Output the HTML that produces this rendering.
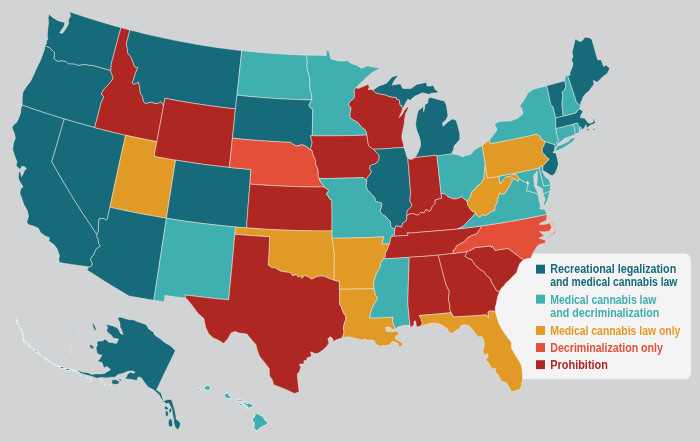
<!DOCTYPE html>
<html><head><meta charset="utf-8"><title>Map</title>
<style>
html,body{margin:0;padding:0;background:#d1d3d4;}
body{width:700px;height:442px;overflow:hidden;position:relative;font-family:"Liberation Sans",sans-serif;}
svg{position:absolute;left:0;top:0;}
</style></head><body>
<svg width="700" height="442" viewBox="0 0 700 442">
<rect width="700" height="442" fill="#d1d3d4"/>
<path fill="#f4f4f5" d="M493,253.5H684.5A6.5,6.5 0 0 1 691,260.0V372.8A6.5,6.5 0 0 1 684.5,379.3H503L494,300Z"/>
<g stroke="#f3ece4" stroke-width="0.5" stroke-linejoin="round">
<path fill="#166a7a" d="M44.7,45.7L46.5,43.5L46.6,40.4L48,39.3L47.3,36.8L47.4,33.6L47.7,29.8L48.5,23.1L48.2,17.5L48.9,14L52.6,17.4L55.3,19L58,20.7L62.7,21.9L64.9,22.6L64,26.2L61.3,30.4L59.6,32.5L62.3,33.4L64.9,30.1L67.1,26.5L68.7,23.2L68.3,19.9L70.6,16L69.4,11.8L73.7,13.2L77.9,14.6L82.2,16L86.5,17.4L90.8,18.8L95.1,20.1L99.4,21.4L103.7,22.7L108,23.9L112.3,25.2L116.6,26.4L121,27.6L119.3,33.7L117.7,39.8L116.1,45.8L114.5,51.9L112.8,58L111.2,64.2L111.1,67.6L110.7,70.6L106.8,69.5L102.9,68.4L98.9,67.3L95,66.2L91.1,65.1L90.7,65.7L87.8,65.1L84.9,64.4L81.6,65L78.3,65.5L74.1,64.1L71.2,64L68.4,64L66,61.6L62,60.9L57.7,61.5L53.7,58.6L54.3,55.7L54.4,52.6L52,50.2L49.7,47.8L47.2,46.8L44.7,45.7Z"/>
<path fill="#166a7a" d="M22.1,105.1L22.2,98.8L22.9,92.1L26.7,86.2L30.6,81.2L33.8,74.5L36.8,67.6L40.2,61L42.8,54L44.3,49.8L44.8,46.9L44.7,45.7L47.2,46.8L49.7,47.8L52,50.2L54.4,52.6L54.3,55.7L53.7,58.6L57.7,61.5L62,60.9L66,61.6L68.4,64L71.2,64L74.1,64.1L78.3,65.5L81.6,65L84.9,64.4L87.8,65.1L90.7,65.7L91.1,65.1L95,66.2L98.9,67.3L102.9,68.4L106.8,69.5L110.7,70.6L111.6,73.9L113.3,77.4L112.1,80.1L110.1,82.7L107.5,85.8L104.8,88.1L102.2,92L101.4,94.1L102.8,95.6L103.8,96.8L102.6,99.7L101.5,101.4L99.8,107.9L98.1,114.5L96.4,121L94.7,127.6L89.6,126.2L84.5,124.8L79.5,123.4L74.4,122L69.4,120.5L64.3,119L59.6,117.6L54.9,116.1L50.2,114.6L45.5,113.1L40.8,111.5L36.1,110L31.4,108.4L26.8,106.7L22.1,105.1Z"/>
<path fill="#166a7a" d="M59.6,262.6L58.7,259.8L59.4,255.5L57.1,248.8L53.8,244.6L50.7,242.2L48.8,241.2L49.4,237.6L45.5,236.2L40.8,232.9L38.3,228.3L33.4,226.1L28,224.5L26.8,221.9L28.5,216.2L27.2,210.4L23.8,204.4L21.9,198.7L19.9,193.4L20.6,189L23.1,186.8L21.1,183.8L18.4,179L18.6,173.6L19.7,170.6L20.4,171.9L21,174.4L21.5,176.6L23,174.3L24.3,170.8L26.5,168.4L24.1,166.6L21.8,166.4L20.2,169.5L16.1,165.8L16.9,161.4L14.3,155L12.6,149.7L13.5,143L15.4,138.1L14.2,133L12.3,128.4L12.4,126.2L16.8,122.1L18.1,119.4L20.5,113.2L21,108.6L22.1,105.1L26.8,106.7L31.4,108.4L36.1,110L40.8,111.5L45.5,113.1L50.2,114.6L54.9,116.1L59.6,117.6L64.3,119L62.2,126.1L60.1,133.2L58.1,140.3L56,147.5L53.9,154.6L51.8,161.7L55.6,168.4L59.4,175.1L63.3,181.8L67.3,188.4L71.3,195.1L75.4,201.7L79.6,208.3L83.8,214.9L88.2,221.5L92.6,228L97,234.5L96.9,236.8L98.2,239.3L98.5,243.1L100.5,245.9L98.2,247.6L96,249.3L94.1,253.4L93.4,255.5L91.2,257.2L90.8,260.2L92.3,263.5L92.3,265.3L90,267L88.8,266.9L82.9,266.1L77.1,265.3L71.3,264.4L65.4,263.6L59.6,262.6Z"/>
<path fill="#166a7a" d="M64.3,119L69.4,120.5L74.4,122L79.5,123.4L84.5,124.8L89.6,126.2L94.7,127.6L99.8,128.9L104.9,130.2L110.1,131.5L115.3,132.8L120.4,134L125.6,135.2L124,142.4L122.4,149.6L120.8,156.8L119.2,164L117.7,171.3L116.1,178.5L114.5,185.7L113,192.9L111.4,200.1L109.9,207.3L108.6,213L107.4,218.8L106.5,220.1L103.3,218.6L99.1,218.7L98.7,222.1L98.5,225.8L98.3,230.3L98.3,231.8L97,234.5L92.6,228L88.2,221.5L83.8,214.9L79.6,208.3L75.4,201.7L71.3,195.1L67.3,188.4L63.3,181.8L59.4,175.1L55.6,168.4L51.8,161.7L53.9,154.6L56,147.5L58.1,140.3L60.1,133.2L62.2,126.1L64.3,119Z"/>
<path fill="#af2723" d="M121,27.6L125.4,28.8L129.9,30L128.1,37.1L126.3,44.2L127.3,48.3L127.6,52.9L130.7,56.7L132.7,61L133.4,64.2L135.4,67.3L137.9,67.6L135.2,73.8L133.2,80.5L132.1,82.9L133.8,84.3L138.4,82.2L139.3,85.3L139.9,89.5L140.5,93.6L142.3,96.4L143.6,101.4L145.2,103.5L148.2,102.8L151.2,102.1L155.2,103.4L158,103.7L160,101.7L161.8,102.6L163.6,105.8L162.2,113L160.9,120.2L159.5,127.4L158.2,134.6L156.9,141.7L151.7,140.7L146.4,139.7L141.2,138.6L136,137.5L130.8,136.4L125.6,135.2L120.4,134L115.3,132.8L110.1,131.5L104.9,130.2L99.8,128.9L94.7,127.6L96.4,121L98.1,114.5L99.8,107.9L101.5,101.4L102.6,99.7L103.8,96.8L102.8,95.6L101.4,94.1L102.2,92L104.8,88.1L107.5,85.8L110.1,82.7L112.1,80.1L113.3,77.4L111.6,73.9L110.7,70.6L111.1,67.6L111.2,64.2L112.8,58L114.5,51.9L116.1,45.8L117.7,39.8L119.3,33.7L121,27.6Z"/>
<path fill="#e29a27" d="M125.6,135.2L130.8,136.4L136,137.5L141.2,138.6L146.4,139.7L151.7,140.7L156.9,141.7L155.5,149L154.2,156.3L159.6,157.3L164.9,158.2L170.2,159.2L175.6,160.1L174.4,167.4L173.3,174.6L172.1,181.9L171,189.2L169.8,196.5L168.7,203.7L167.6,211L166.4,218.2L160.8,217.3L155.1,216.3L149.4,215.3L143.7,214.3L138.1,213.2L132.4,212.1L126.8,210.9L121.1,209.7L115.5,208.5L109.9,207.3L111.4,200.1L113,192.9L114.5,185.7L116.1,178.5L117.7,171.3L119.2,164L120.8,156.8L122.4,149.6L124,142.4L125.6,135.2Z"/>
<path fill="#166a7a" d="M109.9,207.3L115.5,208.5L121.1,209.7L126.8,210.9L132.4,212.1L138.1,213.2L143.7,214.3L149.4,215.3L155.1,216.3L160.8,217.3L166.4,218.2L165.4,225.1L164.3,232L163.3,238.8L162.2,245.6L161.2,252.5L160.1,259.3L159.1,266.2L158,273L157,279.8L155.9,286.6L154.9,293.5L153.8,300.3L148.9,299.5L143.9,298.6L138.9,297.8L134,296.9L129,296L123.6,292.8L118.3,289.6L113,286.4L107.8,283.2L102.5,279.9L97.3,276.6L92.1,273.3L87,270L88.8,266.9L90,267L92.3,265.3L92.3,263.5L90.8,260.2L91.2,257.2L93.4,255.5L94.1,253.4L96,249.3L98.2,247.6L100.5,245.9L98.5,243.1L98.2,239.3L96.9,236.8L97,234.5L98.3,231.8L98.3,230.3L98.5,225.8L98.7,222.1L99.1,218.7L103.3,218.6L106.5,220.1L107.4,218.8L108.6,213L109.9,207.3Z"/>
<path fill="#166a7a" d="M129.9,30L134.5,31.1L139.1,32.3L143.7,33.4L148.3,34.5L152.9,35.6L157.5,36.6L162.1,37.6L166.8,38.6L171.4,39.6L176.1,40.5L180.7,41.4L185.4,42.3L190.1,43.1L194.7,44L199.4,44.8L204.1,45.5L208.8,46.3L213.5,47L218.2,47.7L222.9,48.3L227.7,48.9L232.4,49.5L237.1,50.1L241.8,50.6L241.1,57L240.4,63.4L239.7,69.7L239.1,76.1L238.4,82.5L237.7,88.8L237,95.2L236.2,102.1L235.5,108.9L230.4,108.4L225.4,107.8L220.3,107.2L215.3,106.5L210.2,105.8L205.2,105.1L200.1,104.3L195.1,103.6L190.1,102.8L185,101.9L180,101.1L175,100.2L170,99.2L165,98.3L164.3,102L163.6,105.8L161.8,102.6L160,101.7L158,103.7L155.2,103.4L151.2,102.1L148.2,102.8L145.2,103.5L143.6,101.4L142.3,96.4L140.5,93.6L139.9,89.5L139.3,85.3L138.4,82.2L133.8,84.3L132.1,82.9L133.2,80.5L135.2,73.8L137.9,67.6L135.4,67.3L133.4,64.2L132.7,61L130.7,56.7L127.6,52.9L127.3,48.3L126.3,44.2L128.1,37.1L129.9,30Z"/>
<path fill="#af2723" d="M165,98.3L170,99.2L175,100.2L180,101.1L185,101.9L190.1,102.8L195.1,103.6L200.1,104.3L205.2,105.1L210.2,105.8L215.3,106.5L220.3,107.2L225.4,107.8L230.4,108.4L235.5,108.9L234.7,116.2L234,123.6L233.2,130.9L232.4,138.2L231.7,145.5L230.9,152.8L230.1,160.1L229.4,167.4L224,166.8L218.6,166.2L213.2,165.6L207.8,164.9L202.4,164.2L197.1,163.4L191.7,162.6L186.3,161.8L180.9,161L175.6,160.1L170.2,159.2L164.9,158.2L159.6,157.3L154.2,156.3L155.5,149L156.9,141.7L158.2,134.6L159.5,127.4L160.9,120.2L162.2,113L163.6,105.8L164.3,102Z"/>
<path fill="#166a7a" d="M175.6,160.1L180.9,161L186.3,161.8L191.7,162.6L197.1,163.4L202.4,164.2L207.8,164.9L213.2,165.6L218.6,166.2L224,166.8L229.4,167.4L234.8,168L240.2,168.5L245.6,169L251,169.4L250.4,176.8L249.9,184.1L249.3,191.4L248.7,198.7L248.1,206L247.6,213.3L247,220.6L246.5,227.9L241,227.5L235.5,227L230.2,226.5L224.9,226L219.5,225.4L214.2,224.8L208.9,224.2L203.6,223.6L198.3,222.9L193,222.2L187.6,221.5L182.3,220.7L177,219.9L171.7,219.1L166.4,218.2L167.6,211L168.7,203.7L169.8,196.5L171,189.2L172.1,181.9L173.3,174.6L174.4,167.4L175.6,160.1Z"/>
<path fill="#40afb0" d="M166.4,218.2L171.7,219.1L177,219.9L182.3,220.7L187.6,221.5L193,222.2L198.3,222.9L203.6,223.6L208.9,224.2L214.2,224.8L219.5,225.4L224.9,226L230.2,226.5L235.5,227L234.9,234.3L234.2,241.6L233.6,248.8L232.9,256.1L232.2,263.4L231.5,270.7L230.8,278L230.1,285.3L229.4,292.5L228.7,299.8L223.3,299.3L217.8,298.8L212.3,298.2L206.9,297.6L201.4,297L196,296.3L190.5,295.7L185.1,295L185.8,298.3L180.6,297.6L175.4,296.9L170.3,296.1L165.1,295.4L164.2,301.9L159,301.1L153.8,300.3L154.9,293.5L155.9,286.6L157,279.8L158,273L159.1,266.2L160.1,259.3L161.2,252.5L162.2,245.6L163.3,238.8L164.3,232L165.4,225.1L166.4,218.2Z"/>
<path fill="#40afb0" d="M241.8,50.6L246.4,51.1L251,51.6L255.7,52L260.3,52.5L264.9,52.8L269.5,53.2L274.1,53.5L278.8,53.8L283.4,54.1L288,54.4L292.6,54.6L297.3,54.8L301.9,55L306.5,55.1L307.4,61L306.9,66.8L307.8,71.2L309.5,77.1L309.7,81.5L309.8,85.9L310.2,90.3L311.6,94.7L311.9,100L306.9,99.9L301.9,99.7L296.9,99.6L291.9,99.4L286.9,99.1L281.9,98.9L276.9,98.6L271.9,98.3L266.9,97.9L261.9,97.6L256.9,97.1L251.9,96.7L246.9,96.2L242,95.7L237,95.2L237.7,88.8L238.4,82.5L239.1,76.1L239.7,69.7L240.4,63.4L241.1,57L241.8,50.6Z"/>
<path fill="#166a7a" d="M237,95.2L242,95.7L246.9,96.2L251.9,96.7L256.9,97.1L261.9,97.6L266.9,97.9L271.9,98.3L276.9,98.6L281.9,98.9L286.9,99.1L291.9,99.4L296.9,99.6L301.9,99.7L306.9,99.9L311.9,100L308.8,104.9L310.3,107.8L312.8,109.4L312.7,115.9L312.5,122.5L312.4,129.1L312.3,135.7L310.7,135.7L311.2,139.4L312.2,142.3L311.4,145.9L310.3,149.6L312.1,150.5L309.4,149.6L307.4,147L302.1,144.7L299.2,145.4L296.3,146L292.7,144L290.6,142.4L285.8,142.2L280.9,142L276.1,141.7L271.2,141.4L266.4,141.1L261.5,140.8L256.6,140.4L251.8,140L246.9,139.6L242.1,139.2L237.3,138.7L232.4,138.2L233.2,130.9L234,123.6L234.7,116.2L235.5,108.9L236.2,102.1L237,95.2Z"/>
<path fill="#e44f39" d="M232.4,138.2L237.3,138.7L242.1,139.2L246.9,139.6L251.8,140L256.6,140.4L261.5,140.8L266.4,141.1L271.2,141.4L276.1,141.7L280.9,142L285.8,142.2L290.6,142.4L292.7,144L296.3,146L299.2,145.4L302.1,144.7L307.4,147L309.4,149.6L312.1,150.5L313.1,154.8L315.7,160.6L315.6,164.3L317.5,168L318.3,172.4L318.2,176L319.1,178.5L320.9,182.6L322.6,184.1L324.1,187L318.8,187L313.5,187L308.2,186.9L302.9,186.8L297.6,186.6L292.2,186.5L286.9,186.3L281.6,186L276.3,185.8L271,185.5L265.7,185.2L260.4,184.8L255.1,184.5L249.9,184.1L250.4,176.8L251,169.4L245.6,169L240.2,168.5L234.8,168L229.4,167.4L230.1,160.1L230.9,152.8L231.7,145.5L232.4,138.2Z"/>
<path fill="#af2723" d="M249.9,184.1L255.1,184.5L260.4,184.8L265.7,185.2L271,185.5L276.3,185.8L281.6,186L286.9,186.3L292.2,186.5L297.6,186.6L302.9,186.8L308.2,186.9L313.5,187L318.8,187L324.1,187L327,188.9L329,190.4L326.4,193.6L328.7,197L329.4,198.7L331.9,200L331.9,206.2L332,212.4L332,218.6L332,224.7L332,230.9L326.3,230.9L320.6,230.9L314.9,230.9L309.2,230.8L303.5,230.7L297.8,230.5L292.1,230.4L286.4,230.2L280.7,229.9L275,229.7L269.3,229.4L263.6,229.1L257.9,228.7L252.2,228.3L246.5,227.9L247,220.6L247.6,213.3L248.1,206L248.7,198.7L249.3,191.4L249.9,184.1Z"/>
<path fill="#e29a27" d="M235.5,227L241,227.5L246.5,227.9L252.2,228.3L257.9,228.7L263.6,229.1L269.3,229.4L275,229.7L280.7,229.9L286.4,230.2L292.1,230.4L297.8,230.5L303.5,230.7L309.2,230.8L314.9,230.9L320.6,230.9L326.3,230.9L332,230.9L332.1,238.2L332.9,243.6L333.6,249L334.4,254.4L334.3,260.8L334.3,267.3L334.2,273.7L334.1,280.2L329,278.6L324.8,276.4L321.2,275.9L317,276.6L311.6,279.2L308.6,276.9L304.4,275.4L301.9,278.5L301.4,276L298.4,277L296,274.7L292.4,275.8L290.7,272.8L288.3,272.3L284.7,271.9L280.5,271L277.6,269.4L275.3,267.8L271.7,267.6L268.2,265.1L268.6,258L269,250.9L269.3,243.8L269.7,236.7L263.9,236.4L258.1,236.1L252.3,235.7L246.5,235.2L240.7,234.8L234.9,234.3L235.5,227Z"/>
<path fill="#af2723" d="M234.9,234.3L240.7,234.8L246.5,235.2L252.3,235.7L258.1,236.1L263.9,236.4L269.7,236.7L269.3,243.8L269,250.9L268.6,258L268.2,265.1L271.7,267.6L275.3,267.8L277.6,269.4L280.5,271L284.7,271.9L288.3,272.3L290.7,272.8L292.4,275.8L296,274.7L298.4,277L301.4,276L301.9,278.5L304.4,275.4L308.6,276.9L311.6,279.2L317,276.6L321.2,275.9L324.8,276.4L329,278.6L334.1,280.2L339.4,281.4L339.4,285.3L339.5,289.2L339.5,294.2L339.6,299.3L339.6,304.3L341.4,307.1L342.4,310L343.5,312.9L345.8,316.1L345.8,319.4L344,324.6L343.4,328.3L344.1,331.9L342.3,337.8L336,340L331.3,342.6L333.5,340.1L330.9,336.7L327.8,338.6L329,343L326.5,346.7L322,350.7L317.5,353.6L314.9,353.6L310.5,351.8L311.7,356.2L307.2,357.9L306.4,360.6L303.9,360.7L304.2,363.7L299.3,364.3L300.9,367.4L299,372.6L297.4,373.7L297.6,378.4L298.4,385.7L299.1,392.1L294.4,393.6L287.9,390.4L284,388.8L280.1,387.2L273.6,384.7L272.5,380.3L269.5,375.8L269.2,368.5L265.6,363.9L259.5,356.3L257.3,350.3L255.8,344.4L252.2,340.5L246.9,334L243.1,333.5L239.3,333L235,331.4L231.1,333L228,338.6L223.7,343.6L219.5,340.7L213.3,337.9L208.6,333.8L205.5,326.8L204.7,322.7L203.9,318.6L198.1,313.5L195.1,309.5L192.2,305.4L187.3,299.4L185.8,298.3L185.1,295L190.5,295.7L196,296.3L201.4,297L206.9,297.6L212.3,298.2L217.8,298.8L223.3,299.3L228.7,299.8L229.4,292.5L230.1,285.3L230.8,278L231.5,270.7L232.2,263.4L232.9,256.1L233.6,248.8L234.2,241.6L234.9,234.3Z"/>
<path fill="#40afb0" d="M306.5,55.1L310.5,55.2L314.4,55.3L318.4,55.3L322.3,55.4L326.2,55.4L326.3,49.8L329.1,51L330,55L331,59L334.3,59.7L338.6,60.9L342.9,61.1L347.2,60.7L352,63.8L356.3,65.1L359,66.7L361.7,68.3L364.6,67L367.4,65.8L371,66.5L374.7,67.2L377.6,67.7L380.6,68.3L376.8,70.1L373,72L370.2,74.2L367.4,76.4L362.7,81L358.9,84.8L356.1,87.8L354.2,89.2L354.4,93.4L354.5,97.7L352.9,99.2L349,102.7L348.6,104.9L351.2,107.7L350.1,113.6L350.1,117.3L353,119.8L357.7,122.2L361.5,126.9L365.3,129.9L366.5,132.8L366.9,135L361.9,135.2L356.9,135.4L352,135.5L347,135.6L342.1,135.7L337.1,135.8L332.1,135.8L327.2,135.8L322.2,135.8L317.3,135.8L312.3,135.7L312.4,129.1L312.5,122.5L312.7,115.9L312.8,109.4L310.3,107.8L308.8,104.9L311.9,100L311.6,94.7L310.2,90.3L309.8,85.9L309.7,81.5L309.5,77.1L307.8,71.2L306.9,66.8L307.4,61L306.5,55.1Z"/>
<path fill="#af2723" d="M312.3,135.7L317.3,135.8L322.2,135.8L327.2,135.8L332.1,135.8L337.1,135.8L342.1,135.7L347,135.6L352,135.5L356.9,135.4L361.9,135.2L366.9,135L367.7,140.8L368.6,145.9L373.7,149.3L376.2,152.1L379,154.9L379.2,158.6L377.5,162.3L374.9,163.9L370.1,165.6L369.7,168.6L371.5,171.4L370,174.4L366.9,178.2L366.8,180.7L363.2,177.5L358.3,177.7L353.4,177.9L348.5,178L343.6,178.2L338.7,178.3L333.8,178.4L328.9,178.5L324,178.5L319.1,178.5L318.2,176L318.3,172.4L317.5,168L315.6,164.3L315.7,160.6L313.1,154.8L312.1,150.5L310.3,149.6L311.4,145.9L312.2,142.3L311.2,139.4L310.7,135.7L312.3,135.7Z"/>
<path fill="#40afb0" d="M319.1,178.5L324,178.5L328.9,178.5L333.8,178.4L338.7,178.3L343.6,178.2L348.5,178L353.4,177.9L358.3,177.7L363.2,177.5L366.8,180.7L366.1,185.6L366.7,187.7L368,190.6L371.5,194.1L375,197.7L375.7,201.3L378.5,201.9L382,203.2L381.8,205.8L380.2,211.3L382,214.2L385.6,216.2L390.5,221.8L390.6,224.7L391.4,227.6L394.9,228.9L394.6,232.6L394.7,234.8L393,234.9L391.4,236.4L390.4,239.4L390,242.4L389.5,243.9L385.6,244.1L381.7,244.3L383.9,236.8L378.1,237.1L372.4,237.4L366.6,237.6L360.9,237.8L355.1,237.9L349.4,238L343.6,238.1L337.8,238.2L332.1,238.2L332,230.9L332,224.7L332,218.6L332,212.4L331.9,206.2L331.9,200L329.4,198.7L328.7,197L326.4,193.6L329,190.4L327,188.9L324.1,187L322.6,184.1L320.9,182.6L319.1,178.5Z"/>
<path fill="#e29a27" d="M332.1,238.2L337.8,238.2L343.6,238.1L349.4,238L355.1,237.9L360.9,237.8L366.6,237.6L372.4,237.4L378.1,237.1L383.9,236.8L381.7,244.3L385.6,244.1L389.5,243.9L386.9,250.6L385.3,252.9L385.5,256.6L383.3,258.9L380.5,263.4L380.1,267.8L376.8,272.4L375.2,276.9L373.6,282.8L374.2,288.6L368.4,288.8L362.6,288.9L356.8,289L351,289.1L345.3,289.2L339.5,289.2L339.4,285.3L339.4,281.4L334.1,280.2L334.2,273.7L334.3,267.3L334.3,260.8L334.4,254.4L333.6,249L332.9,243.6L332.1,238.2Z"/>
<path fill="#e29a27" d="M339.5,289.2L345.3,289.2L351,289.1L356.8,289L362.6,288.9L368.4,288.8L374.2,288.6L375.3,294.5L377.8,298L375.6,301.8L372.7,307L371,311.5L369.6,318.1L375.5,317.9L381.4,317.7L387.2,317.4L393.1,317.1L392.5,321.5L393.9,325.1L395.9,328.7L392.2,329.6L389.6,326.8L385.3,327.7L386.7,331.3L391.7,331.8L396,330.9L398,332.2L399.4,334.4L395.7,336L395.8,339L399.1,341L403,343.7L401.9,346L398.8,346.9L398,343.3L392.8,341.3L390.4,343.6L388,345.5L382.9,345.5L379.8,346.3L375.9,344.3L373.8,340L367.5,340.2L365,338.8L361.9,339.9L355.5,338.6L349.2,336.7L345.7,337.2L342.3,337.8L344.1,331.9L343.4,328.3L344,324.6L345.8,319.4L345.8,316.1L343.5,312.9L342.4,310L341.4,307.1L339.6,304.3L339.6,299.3L339.5,294.2L339.5,289.2Z"/>
<path fill="#af2723" d="M356.1,87.8L358.1,88.5L361.5,87.1L364.9,85.7L368.2,84.2L369.4,87.3L368,89.5L371.5,89.6L373,90L375.9,92.9L379.4,93.7L382.8,94.4L386.3,95.2L389.4,96.6L393,97.1L396.6,97.7L396.7,99.4L399.3,99.9L400.3,105.7L401.8,105.2L402.6,109.2L401.4,112.3L399.2,117.6L401.6,115.2L404.7,109.8L407.6,107L408.6,107.2L407.4,110.3L405.6,113.4L404.6,119.4L404.4,123L403.3,128.3L401.8,135.8L402.1,139.4L403.6,144.5L403.8,147.4L398.8,147.8L393.8,148.1L388.8,148.5L383.7,148.8L378.7,149.1L373.7,149.3L368.6,145.9L367.7,140.8L366.9,135L366.5,132.8L365.3,129.9L361.5,126.9L357.7,122.2L353,119.8L350.1,117.3L350.1,113.6L351.2,107.7L348.6,104.9L349,102.7L352.9,99.2L354.5,97.7L354.4,93.4L354.2,89.2L356.1,87.8Z"/>
<path fill="#166a7a" d="M373.7,149.3L378.7,149.1L383.7,148.8L388.8,148.5L393.8,148.1L398.8,147.8L403.8,147.4L405.9,153.1L406.8,156.7L407.8,158.5L408.4,165.5L409,172.4L409.5,179.3L410.1,186.2L410.6,193.2L410.2,196.9L409.9,200.6L412,205.6L409.4,208.7L407.3,210.4L407,214.1L406.8,216.3L406.8,218.5L405.9,221.2L402.6,223.2L401.7,227.2L399.4,226.4L395.9,225.9L394.9,228.9L391.4,227.6L390.6,224.7L390.5,221.8L385.6,216.2L382,214.2L380.2,211.3L381.8,205.8L382,203.2L378.5,201.9L375.7,201.3L375,197.7L371.5,194.1L368,190.6L366.7,187.7L366.1,185.6L366.8,180.7L366.9,178.2L370,174.4L371.5,171.4L369.7,168.6L370.1,165.6L374.9,163.9L377.5,162.3L379.2,158.6L379,154.9L376.2,152.1L373.7,149.3Z"/>
<path fill="#af2723" d="M407.8,158.5L411.4,159.5L415.3,157.3L419.6,156.9L423.9,156.4L428.3,156L432.6,155.5L436.9,155L437,155.9L437.7,162.2L438.4,168.6L439.1,174.9L439.8,181.2L440.4,187.6L441.1,193.9L441.6,198.3L439.6,198.8L435.2,200L435,203.4L431.9,207.1L430.6,210.5L429.5,211.4L425.9,209.5L424,212.9L420.5,212.5L417.9,215.4L415,214.2L411.5,213.4L408.2,214.7L406.8,216.3L407,214.1L407.3,210.4L409.4,208.7L412,205.6L409.9,200.6L410.2,196.9L410.6,193.2L410.1,186.2L409.5,179.3L409,172.4L408.4,165.5L407.8,158.5Z"/>
<path fill="#40afb0" d="M437,155.9L441.8,155.2L446.7,154.4L451.5,153.7L456.5,154.6L459.9,155.5L462.3,157.1L465.4,155.6L470.7,154.4L474.4,150.1L478.4,147.5L482.2,145.4L483.3,151.9L484.3,158.3L485.3,164.8L484.5,168.6L484.3,174.6L483.6,179.1L480.6,184.1L477,186.1L475.2,189.4L472,191.4L470.8,194.5L470.1,197.9L467,200.7L464,199.2L462,196.8L457.7,198.5L453.2,199.1L447.8,196.8L444.6,193.5L441.1,193.9L440.4,187.6L439.8,181.2L439.1,174.9L438.4,168.6L437.7,162.2L437,155.9Z"/>
<path fill="#166a7a" d="M415.3,157.3L418.2,152L420.4,146.6L420.4,141.5L419.4,137.1L416.6,130L415.5,124.2L416.3,119.4L417.1,114.5L418.2,110.7L422.5,107.3L423.4,105.7L423.5,111.6L424.7,108.5L424.8,104.8L427.7,103L428.1,99.3L430.1,97.2L433.3,98.1L436.4,99L440.4,100L444.4,100.9L446.6,105.8L447.3,110.9L448,116L445.9,120L442.6,122.7L443.1,126.3L447.8,122L452.1,118.9L456,120.1L457.7,125L458.8,129.4L459.8,133.7L459.8,139.6L456.1,143.8L454.2,145.6L453.6,149.4L451.5,153.7L446.7,154.4L441.8,155.2L437,155.9L436.9,155L432.6,155.5L428.3,156L423.9,156.4L419.6,156.9ZM373,90L375.9,88L378.7,86L382.6,84.7L386.5,83.3L389.2,80.2L391.9,77L395.3,76L398.7,75L394.2,80.5L392.1,85.1L396.2,84.4L400.4,83.7L402.8,88.6L406.9,88.6L410.9,88.6L413.7,86.6L416.5,84.6L421.4,83.4L426.3,82.2L427.2,86.1L430.8,86.1L433.2,85.3L435.2,89.5L438,91.4L436.7,92.9L433.7,93.1L430.6,93.3L430.3,94.6L426.4,93.7L422.4,92.8L418.6,94.6L414.7,96.3L411,99.6L412.1,101L407.9,99.2L405.2,103.8L402.6,109.2L401.8,105.2L400.3,105.7L399.3,99.9L396.7,99.4L396.6,97.7L393,97.1L389.4,96.6L386.3,95.2L382.8,94.4L379.4,93.7L375.9,92.9Z"/>
<path fill="#af2723" d="M394.9,228.9L395.9,225.9L399.4,226.4L401.7,227.2L402.6,223.2L405.9,221.2L406.8,218.5L406.8,216.3L408.2,214.7L411.5,213.4L415,214.2L417.9,215.4L420.5,212.5L424,212.9L425.9,209.5L429.5,211.4L430.6,210.5L431.9,207.1L435,203.4L435.2,200L439.6,198.8L441.6,198.3L441.1,193.9L444.6,193.5L447.8,196.8L453.2,199.1L457.7,198.5L462,196.8L464,199.2L467,200.7L467.5,204.6L469.7,208.1L471.8,211L475.8,212.6L472.5,216.6L468.1,221.1L463.8,226L460.9,227.5L458,228.9L453,229.4L447.9,229.9L442.9,230.4L437.1,230.8L431.4,231.3L425.7,231.7L420.5,232.2L415.4,232.6L410.2,233.1L407.6,232.7L408.1,235.3L402.5,235.7L396.9,236.1L391.4,236.4L393,234.9L394.7,234.8L394.6,232.6L394.9,228.9Z"/>
<path fill="#af2723" d="M391.4,236.4L396.9,236.1L402.5,235.7L408.1,235.3L407.6,232.7L410.2,233.1L415.4,232.6L420.5,232.2L425.7,231.7L431.4,231.3L437.1,230.8L442.9,230.4L447.9,229.9L453,229.4L458,228.9L463.7,228.2L469.5,227.5L475.2,226.8L480.9,226L481,228L478.7,230.6L477.1,233.8L471.4,235.7L467.6,237.8L464.5,241.5L460.1,244L456.2,246.2L455.9,248.5L453.2,250.1L453.2,253.4L448.2,254L443.2,254.6L438.2,255.1L433.2,255.6L428.1,256L423.1,256.4L418.1,256.7L413,257.1L407.9,257.4L403,257.8L398.1,258.1L393.1,258.4L388.2,258.6L383.3,258.9L385.5,256.6L385.3,252.9L386.9,250.6L389.5,243.9L390,242.4L390.4,239.4L391.4,236.4Z"/>
<path fill="#40afb0" d="M383.3,258.9L388.2,258.6L393.1,258.4L398.1,258.1L403,257.8L407.9,257.4L409.2,258.8L409,266L408.7,273.2L408.5,280.4L408.2,287.6L408.1,292.7L407.9,297.9L407.8,303L408.4,309.1L409,315.2L409.6,321.3L410.2,327.4L410.1,325.6L405.1,325.2L401.4,325.9L398.3,327.1L395.9,328.7L393.9,325.1L392.5,321.5L393.1,317.1L387.2,317.4L381.4,317.7L375.5,317.9L369.6,318.1L371,311.5L372.7,307L375.6,301.8L377.8,298L375.3,294.5L374.2,288.6L373.6,282.8L375.2,276.9L376.8,272.4L380.1,267.8L380.5,263.4L383.3,258.9Z"/>
<path fill="#af2723" d="M407.9,257.4L413,257.1L418.1,256.7L423.1,256.4L428.1,256L433.2,255.6L438.2,255.1L439.8,261.2L441.4,267.3L443,273.4L444.7,279.5L446.3,285.5L449.3,291.3L448.8,296.7L448.3,299.7L449.8,304.7L449.6,309.2L451.2,312.7L445.9,313.2L440.6,313.7L435.3,314.2L429.9,314.6L424.6,315.1L419.3,315.5L421.5,319.7L422.4,323.3L421.1,325.9L416.4,327L416.2,324.5L415.4,320.9L414.1,321L413.8,325.4L410.2,327.4L409.6,321.3L409,315.2L408.4,309.1L407.8,303L407.9,297.9L408.1,292.7L408.2,287.6L408.5,280.4L408.7,273.2L409,266L409.2,258.8L407.9,257.4Z"/>
<path fill="#af2723" d="M438.2,255.1L443.2,254.6L448.2,254L453.2,253.4L457.9,252.8L462.6,252.2L467.3,251.5L465,256.3L468.9,258.8L471.4,259.2L475,264.7L479.8,269.2L483.8,271.6L486.7,275.7L490.1,278.2L492,283.1L495.1,287.9L496.5,290.7L499.7,291.2L497.6,296.5L496.5,302.6L495.3,307.2L495.2,311.4L489.6,311L488.1,312L488.5,317.6L486.3,314.9L480.8,315.3L475.3,315.7L469.8,316.1L464.3,316.4L458.8,316.7L453.3,316.9L451.2,312.7L449.6,309.2L449.8,304.7L448.3,299.7L448.8,296.7L449.3,291.3L446.3,285.5L444.7,279.5L443,273.4L441.4,267.3L439.8,261.2L438.2,255.1Z"/>
<path fill="#e29a27" d="M495.2,311.4L496.5,316L498.7,323.1L502.3,330.1L505.5,334.8L510.2,340.7L511.4,342.8L511.3,348L513.5,352.1L515.8,356.2L519.1,360.9L521.5,365.7L522.3,372.9L522.6,380.2L521.1,386.4L520.2,389.4L513.8,391.2L511.1,391.6L510.1,388.8L506.5,382.7L501.6,381.2L499.9,378.5L498,374.4L495.9,373.2L495.2,368.1L492.1,369.3L488.7,363.1L485.6,359.8L487.4,358.1L488.2,354.3L485.5,353.9L483.8,355.6L483.2,350.5L484.4,344.4L483.8,340.1L481.5,336.6L478.3,337L473.1,330.3L469.5,326.3L464.9,324.6L460.6,325.8L460.2,328L454.3,331.6L453.2,333.2L448.8,332.5L447.8,329.3L444.4,326.7L439.8,324.1L434.8,323.1L429.8,323.5L425,324.9L421.1,325.9L422.4,323.3L421.5,319.7L419.3,315.5L424.6,315.1L429.9,314.6L435.3,314.2L440.6,313.7L445.9,313.2L451.2,312.7L453.3,316.9L458.8,316.7L464.3,316.4L469.8,316.1L475.3,315.7L480.8,315.3L486.3,314.9L488.5,317.6L488.1,312L489.6,311L495.2,311.4ZM521.9,387.3L520.6,390.4L517.9,393.8L517.3,393.4L520,389.9L521.2,387.1ZM515.2,396.1L512.1,398L507.6,399.7L503.1,401.5L503,400.8L507.5,399.1L512,397.3L514.8,395.6Z"/>
<path fill="#af2723" d="M467.3,251.5L471.4,249.8L475.3,247.5L480.5,247L485.8,246.5L491.1,245.9L491.4,247.4L492.6,246.4L494.9,250.3L499.3,249.7L503.6,249L508,248.4L513.1,252.2L518.2,256L523.4,259.8L519.7,263.6L517.6,269.2L516.8,272.4L513.1,276L509.9,279.5L505.6,283.3L504.1,285.7L501.9,287.6L499.7,291.2L496.5,290.7L495.1,287.9L492,283.1L490.1,278.2L486.7,275.7L483.8,271.6L479.8,269.2L475,264.7L471.4,259.2L468.9,258.8L465,256.3L467.3,251.5Z"/>
<path fill="#e44f39" d="M453.2,253.4L453.2,250.1L455.9,248.5L456.2,246.2L460.1,244L464.5,241.5L467.6,237.8L471.4,235.7L477.1,233.8L478.7,230.6L481,228L480.9,226L486.5,225.2L492,224.3L497.6,223.5L503.1,222.6L508.7,221.7L514.2,220.7L519.7,219.7L525.3,218.7L530.8,217.6L536.3,216.5L541.8,215.4L547.3,214.2L546.8,218.1L546.4,220.5L543.4,221.7L540.3,222.9L539.3,224.8L542.9,224.4L546.5,224L549.8,222.8L551.7,227.4L549.6,230.9L545,231.9L539.6,231.5L542.5,234.2L544.5,235.6L539,238.3L543.5,239.6L546,240.3L545,243.5L540.7,244L537.4,245.9L533.6,251.9L530.5,258.6L527.4,258.4L523.4,259.8L518.2,256L513.1,252.2L508,248.4L503.6,249L499.3,249.7L494.9,250.3L492.6,246.4L491.4,247.4L491.1,245.9L485.8,246.5L480.5,247L475.3,247.5L471.4,249.8L467.3,251.5L462.6,252.2L457.9,252.8L453.2,253.4ZM547.4,214.2L550,218.9L553.8,224.5L555.8,231.3L555.1,233L550.6,235.9L547.1,239.7L545.5,244.2L545,243.4L547,238.9L550.4,235.1L554.5,232L554.5,229.3L553.1,224.9L549.3,219.1L547.1,215Z"/>
<path fill="#40afb0" d="M458,228.9L460.9,227.5L463.8,226L468.1,221.1L472.5,216.6L475.8,212.6L476.6,215L479.7,217L483.1,214.4L484.8,215.7L488.4,213.9L492,211.1L494.8,210.2L494.8,206.7L497.1,202.6L497.3,200L499.6,192.9L501.5,194L504.5,193.8L507.8,188.8L511.9,181.6L511.9,177.8L515.1,179.5L518.4,181.2L519.1,178.4L522,180.8L525.1,182L527.6,182.9L528.1,185.9L526.2,190.8L529.8,191.5L534.6,192.8L538.5,195L538.9,200.2L540.3,204.4L540.1,209L544.8,209.2L547.3,214.2L541.8,215.4L536.3,216.5L530.8,217.6L525.3,218.7L519.7,219.7L514.2,220.7L508.7,221.7L503.1,222.6L497.6,223.5L492,224.3L486.5,225.2L480.9,226L475.2,226.8L469.5,227.5L463.7,228.2L458,228.9ZM543,194L546.5,192.6L550,191.1L548.8,195.4L547.6,199.7L544.8,206.2L543.7,203.7L545.1,198.8Z"/>
<path fill="#e29a27" d="M467,200.7L470.1,197.9L470.8,194.5L472,191.4L475.2,189.4L477,186.1L480.6,184.1L483.6,179.1L484.3,174.6L484.5,168.6L485.3,164.8L486.4,171.5L487.4,178.2L491.2,177.6L495,176.9L498.8,176.2L499.4,180L500.1,183.8L503.6,179.4L506.6,176.6L510.5,176.6L512.9,174.2L516.4,174.7L519.1,178.4L518.4,181.2L515.1,179.5L511.9,177.8L511.9,181.6L507.8,188.8L504.5,193.8L501.5,194L499.6,192.9L497.3,200L497.1,202.6L494.8,206.7L494.8,210.2L492,211.1L488.4,213.9L484.8,215.7L483.1,214.4L479.7,217L476.6,215L475.8,212.6L471.8,211L469.7,208.1L467.5,204.6L467,200.7Z"/>
<path fill="#40afb0" d="M498.8,176.2L503.9,175.3L508.9,174.4L513.9,173.4L519,172.4L524,171.3L529,170.3L534,169.2L539,168L540.6,174L542.1,180.1L543.7,186.1L547.3,185.3L550.9,184.6L550,191.1L546.5,192.6L543,194L542.5,188.8L536.7,185.5L537.3,180.1L537.3,174L537.2,171L533.6,175.6L533.9,180.1L534.5,186L536.4,190.1L538.5,195L534.6,192.8L529.8,191.5L526.2,190.8L528.1,185.9L527.6,182.9L525.1,182L522,180.8L519.1,178.4L516.4,174.7L512.9,174.2L510.5,176.6L506.6,176.6L503.6,179.4L500.1,183.8L499.4,180L498.8,176.2Z"/>
<path fill="#40afb0" d="M539,168L540.7,166L543,165.9L542.4,171.4L545.2,176.8L549.3,179.9L550.9,184.6L547.3,185.3L543.7,186.1L542.1,180.1L540.6,174L539,168Z"/>
<path fill="#e29a27" d="M482.2,145.4L485.9,142.6L489.6,139.8L490.2,143.7L495.4,142.7L500.6,141.8L505.8,140.8L511,139.7L516.1,138.6L521.3,137.5L526.4,136.4L531.6,135.2L536.7,134L540.6,136.9L541.1,139.1L545.5,141.6L543.7,146L542.2,148.2L542.4,152.4L544.4,154.2L546.1,156.8L549.2,159.1L545.7,163L543,165.9L540.7,166L539,168L534,169.2L529,170.3L524,171.3L519,172.4L513.9,173.4L508.9,174.4L503.9,175.3L498.8,176.2L495,176.9L491.2,177.6L487.4,178.2L486.4,171.5L485.3,164.8L484.3,158.3L483.3,151.9L482.2,145.4Z"/>
<path fill="#166a7a" d="M545.5,141.6L550.3,143.2L555.1,144.7L554.8,149.4L553.1,152.8L555.9,152.9L557.6,159.3L558.4,163.7L557.2,168.6L555.3,172.9L552.5,175.8L550,174.9L546.7,172.6L542.8,170.5L543,165.9L545.7,163L549.2,159.1L546.1,156.8L544.4,154.2L542.4,152.4L542.2,148.2L543.7,146L545.5,141.6Z"/>
<path fill="#40afb0" d="M489.6,139.8L492.5,136L495.4,132.2L497.1,129.7L494.4,123.9L497.1,122.6L499.8,121.3L505.2,121.2L510.5,121L514,119.6L517.5,118.3L520.2,116L523,113.7L521.9,108.7L519.7,106.1L523.8,100.6L525.9,96.9L527.9,93.1L530.6,91.2L533.3,89.2L537.7,88.1L542.2,87L546.6,85.8L548.5,93L549.8,100.3L551.2,106L552.9,106.3L554.3,112.1L555.6,117.8L555.7,123.2L555.7,128.5L556.9,133.9L558,139.4L558.8,140.5L556.6,142.8L557.8,144L556.8,147L555.1,149.3L555.1,146.2L555.1,144.7L550.3,143.2L545.5,141.6L541.1,139.1L540.6,136.9L536.7,134L531.6,135.2L526.4,136.4L521.3,137.5L516.1,138.6L511,139.7L505.8,140.8L500.6,141.8L495.4,142.7L490.2,143.7L489.6,139.8ZM555.1,150.8L558.6,150.2L562.1,148.4L565.6,146.5L568.5,144.6L571.4,142.7L573.8,140.3L576.1,138L571.4,138.1L568.3,141.5L565.5,142.7L562.8,143.9L557.7,146L555.4,148.4Z"/>
<path fill="#40afb0" d="M555.7,128.5L560.1,127.4L564.5,126.4L568.9,125.3L573.3,124.1L575,130.1L575.3,134.4L572.6,135.5L569.9,136.6L564.7,138.3L561.1,141.6L557.8,144L556.6,142.8L558.8,140.5L558,139.4L556.9,133.9L555.7,128.5Z"/>
<path fill="#40afb0" d="M573.3,124.1L577.6,122.9L578.1,124.6L579,126.2L580.8,127.2L582.3,129.6L580.5,130.4L578.8,127.5L579.4,131.2L578.8,132.6L575.3,134.4L575,130.1L573.3,124.1Z"/>
<path fill="#166a7a" d="M555.6,117.8L559.8,116.8L564,115.8L568,114.9L571.9,113.9L575.8,112.9L576.6,111.9L578.2,109.6L580,109.1L583.1,111.5L581.2,114.4L580.4,117.8L584.4,118.1L586.9,121.2L588.5,123.1L590.7,123.2L593.6,121.5L593,119.4L592.1,118.9L593.5,118.8L594.6,120.4L595.5,123.1L592.9,124.2L590.2,125.4L587,127.9L586,126.2L586.1,124.6L584.3,128.2L582.3,129.6L580.8,127.2L579,126.2L578.1,124.6L577.6,122.9L573.3,124.1L568.9,125.3L564.5,126.4L560.1,127.4L555.7,128.5L555.7,123.2L555.6,117.8ZM585.9,130.7L587.8,128.6L589.4,129.3L588.1,130.5ZM592.1,130.1L594.3,128.6L595.1,129.5L593.3,130.3Z"/>
<path fill="#166a7a" d="M546.6,85.8L551.2,84.6L555.7,83.3L560.3,82.1L564.8,80.7L565.9,86.6L564.7,90L562.1,92.3L562.9,95.1L562.5,99.8L562,103L562.2,106.8L563,112L562.6,114.4L564,115.8L559.8,116.8L555.6,117.8L554.3,112.1L552.9,106.3L551.2,106L549.8,100.3L548.5,93L546.6,85.8Z"/>
<path fill="#40afb0" d="M564.8,80.7L565,77.6L565.5,75.9L567.7,75.3L569.5,80.9L571.4,86.5L573.4,92.8L575.5,99.1L576.6,102.7L578.6,103.9L580.4,105.9L580,109.1L578.2,109.6L576.6,111.9L575.8,112.9L571.9,113.9L568,114.9L564,115.8L562.6,114.4L563,112L562.2,106.8L562,103L562.5,99.8L562.9,95.1L562.1,92.3L564.7,90L565.9,86.6L564.8,80.7Z"/>
<path fill="#166a7a" d="M567.7,75.3L570.1,75.3L569.9,72.8L572.4,66.9L573,63.6L571.5,60.3L573,56.4L572.1,52.4L573.7,45.7L575.2,39.1L578.6,40.8L581,41.8L583.1,39.5L585.2,37.1L589.5,37.8L591.9,39.5L593.5,45.1L595.1,50.7L596.7,56.4L597.6,59.7L601.3,59.9L603.4,66.3L606.3,65.3L609.7,68.3L607.4,73.5L603,76.5L599.7,79.9L597.2,82.3L593.4,80.4L594,84.1L592.5,86.2L589.1,91.1L585.6,93.8L583.2,96.8L582.4,99.4L581,102.1L580.4,105.9L578.6,103.9L576.6,102.7L575.5,99.1L573.4,92.8L571.4,86.5L569.5,80.9L567.7,75.3Z"/>
<path fill="#f6f1ea" d="M526.7,182.7L527.4,181.5L528.9,182.7L528.1,184.4Z"/>
<path fill="#166a7a" d="M175.4,350.6L174.5,352.5L173.6,354.4L172.7,356.3L171.7,358.3L170.8,360.3L169.8,362.3L168.8,364.3L167.8,366.3L166.8,368.4L165.8,370.4L164.8,372.5L163.8,374.6L162.8,376.7L161.8,378.9L160.7,381L159.7,383.2L158.6,385.4L157.6,387.6L156.5,389.8L157.6,390.6L158.8,391.4L159.9,392.3L161.1,393.1L161.7,395.1L162.3,397L162.9,399L163.6,400.9L165.5,400.3L167.4,399.6L169.1,399.4L170.9,399.3L172,400.8L172.7,403.3L173.4,405.8L173.9,407.1L174.4,408.4L174.9,410.8L175.4,413.2L175.9,415.6L176,417.3L176.1,419L177.3,420L178.5,421L179.6,422L180.7,424.1L180,425.7L179.3,427.4L178.7,428.7L178.1,430L176.7,428.8L175.3,427.6L174.7,425.7L174.1,423.8L173.9,421.8L173.8,419.7L173.2,417L172.6,414.3L172.3,411.9L171.9,409.6L171.1,407.8L170.2,406.1L169.6,404.7L168.9,403.3L167.5,403.5L166,403.7L164.8,402.6L163.5,401.5L162.3,400.3L161.5,399L160.7,397.7L159.9,396.3L159.2,395L158,393.8L156.8,392.7L155.6,391.5L154.5,390.4L153.2,389.7L151.8,389L150.5,388.3L149.2,387.6L147.9,386.9L147.2,386L146.5,385L145.5,383.7L144.6,382.5L143.7,381.2L142.7,379.8L141.7,378.5L140.7,377.2L139.3,377.2L137.9,377.2L137.4,378.9L136.9,380.6L135.3,380.3L133.7,379.9L132.1,379.5L130.3,379.4L128.6,379.3L126.8,379.1L125.6,378.3L124.4,377.6L126.8,376.8L127.1,374.6L128.6,373.4L130.1,372.3L131.5,372.6L132.8,372.9L134.2,373.2L135.1,372.3L133.9,371.7L132.7,371.1L130.9,371.1L129.1,371.1L127.2,371.7L125.4,372.2L122.9,373.6L121.5,373.8L120,374L117.5,374.8L116.5,375.9L115.5,377.1L113.5,377.2L111.4,377.3L109.6,377.5L107.9,377.7L106.1,377.9L104.4,377.8L102.8,377.6L101.1,377.4L99.1,377.8L97.1,378.3L95.5,377.7L93.9,377.2L92.4,376.6L90.6,376.1L88.8,375.6L87.1,375.1L85.5,374.7L83.9,374.3L82.3,373.8L81.3,373.4L80.4,372.9L78.8,372.1L77.2,371.3L75.6,370.5L77.6,370.7L79.5,370.8L81.2,371.5L82.8,372.2L85,372.3L87.1,372.4L88.8,373.1L90.4,373.7L92,374.4L94.2,374.1L96.4,373.8L98.2,373.9L100,374L102.2,373.8L104.5,373.6L105.8,372.6L107.1,371.7L108.5,371L109.8,370.2L110.5,369.4L109.2,368.4L108,367.4L106.8,366.4L105.4,367.2L103.9,368L103.3,366.3L102.7,364.5L102.1,362.7L100.7,362.3L99.4,361.7L98,361.2L96.7,360.7L99.2,359.8L100.1,358.2L101.1,356.6L102,355L100,355L98.6,354.3L97.1,353.6L96.7,351.7L96.4,349.8L96,348L96.6,346.6L97.3,345.2L97.1,343.7L96.9,342.1L97.9,341.1L99.5,341L101.1,340.9L102.7,340.7L103.9,339.9L105.1,339L106.1,339.8L107.1,340.7L108.1,341.5L109.1,342.4L110.7,342.5L112.3,342.6L113.7,342.9L115.1,343.2L116.5,343.5L117,342.4L117.5,341.3L118.6,339.1L117.5,338.9L116.5,338.6L115,338.4L113.4,338.2L112.8,337.3L112.1,336.3L111.5,335.4L110.4,334.6L109.4,333.8L108.3,332.9L107.4,331.8L106.5,330.7L107.1,329.3L107.6,328L107.2,326.7L106.7,325.5L106.3,324.2L107.8,324.6L109.4,325L110.9,325.4L112.4,325.7L113.5,326.2L114.5,326.7L115.6,327.1L116.6,327.6L117.6,328.4L118.5,329.2L119,330.2L119.5,331.3L120,332.4L120.5,333.5L121.8,334L123.2,334.5L122.7,333.2L122.2,331.9L121.9,330.8L121.6,329.7L121.1,328.8L120.5,328L119.9,327.1L120,325.4L120.1,323.8L119.6,322.5L119.1,321.3L118.6,320.1L118.1,318.9L117.6,317.7L118.9,317.4L120.3,317.1L121.6,317.4L122.8,317.8L124.1,318.2L125.3,318.6L126.5,318.9L127.8,319.3L129,319.6L130.2,319.7L131.5,319.7L132.7,319.7L133.8,320.1L135,320.6L136.2,321.1L137.3,321.5L138.6,322L139.8,322.4L141,322.8L142.3,323.2L143.5,323.7L144.7,324.1L146,324.5L146.7,325.6L147.4,326.7L148.1,327.8L148.8,329L149.8,329.7L150.9,330.4L151.9,331.1L152.9,331.8L154,332.4L154.1,334.5L155.1,335.2L156.1,336L157.2,336.7L158.2,337.4L159.2,338.1L160.3,338.8L161.2,339.6L162.2,340.4L163.2,341.2L164.2,342L165.2,342.7L166.3,343.4L167.3,344L168.4,344.6L169.4,345.2L170.5,345.7L171.3,346.6L172.1,347.4L172.9,348.2L173.8,349L174.6,349.8ZM169,426.8L170.9,426.7L172.7,426.6L172.6,424L172.4,421.5L171.7,420L171,418.6L169.7,419.2L168.4,419.8L168.4,421.8L168.4,423.7ZM166.5,417.3L167.6,415.8L168.7,414.3L168.3,412.8L167.8,411.2L166.7,411L165.6,410.8L165.4,412.4L165.3,414L165.9,415.7ZM166.2,409.9L167.5,409.4L168.8,408.8L167.6,407.5L166.4,406.1L164.6,406.4L164.7,408.7L165.5,409.3ZM170.5,413.4L171.3,411.8L172.1,410.2L171.2,408.7L170.4,407.3L169.6,408.9L168.8,410.5L169.6,412ZM119.4,381.6L119.1,383.8L117.3,384.1L115.5,384.5L113.7,384.2L111.9,383.9L111.9,382L111.8,380.1L113.6,379.8L115.4,379.5L116.4,380L117.4,380.5L118.4,381.1ZM119,379.1L119.7,378.8L120.7,379.2L121.4,379.9L121.4,380.7L120.7,381L119.7,380.7L119,379.9ZM89.6,344.9L90.9,344.7L91.8,345.2L92.6,345.7L93.2,346.5L93.8,347.3L93.7,348.6L92.4,348.9L91.5,348.4L90.6,347.9L90,347L89.4,346.2ZM92.6,323.5L93.4,323.8L94,324.7L94.6,325.5L95.1,326.6L95.7,327.8L96,328.8L96.3,329.8L96.2,330.9L95.3,330.6L94.7,329.8L94.1,328.9L93.5,327.8L93,326.6L92.7,325.6L92.4,324.6Z"/>
<path fill="none" stroke="#ffffff" stroke-width="0.8" stroke-dasharray="2.2 1 1.2 0.8 3 1.4" stroke-opacity="0.85" d="M79.9,372.9L78.4,372.2L76.9,371.5L75.4,370.7L73.6,370.4L71.7,370.1L69.9,369.8L68,369.5L66.4,368.9L64.7,368.4L63,367.8L61.4,367.3L59.6,366.6L57.8,365.8L56,365.1L54.4,364.2L52.7,363.4L51.1,362.5L49.4,361.6L47.8,360.7L46.4,359.6L45,358.6L43.6,357.5L42.3,356.5L40.9,355.5L39.6,354.4L38.3,353.4L37,352.3L35.6,351.3L34.5,350.2L33.4,349.1L32.3,348L30.8,346.9L29.3,345.8L27.7,344.7L26.5,343.4L25.3,342L24.1,340.7L23.7,338.9L23.4,337.1L23.1,335.2L22.6,333.8L22.2,332.4L21.7,331L21.3,329.6L20.3,328.1L19.4,326.6L18.4,325.2L17.4,323.7L16.5,322.2L16.6,320.6L16.8,319.1L16.6,320.6L16.5,322.2L17.4,323.7L18.4,325.2L19.4,326.6L20.3,328.1L21.3,329.6L21.7,331L22.2,332.4L22.6,333.8L23.1,335.2L23.4,337.1L23.7,338.9L24.1,340.7L25.3,342L26.5,343.4L27.7,344.7L29.3,345.8L30.8,346.9L32.3,348L33.4,349.1L34.5,350.2L35.6,351.3L37,352.3L38.3,353.4L39.6,354.4L40.9,355.5L42.3,356.5L43.6,357.5L45,358.6L46.4,359.6L47.8,360.7L49.4,361.6L51.1,362.5L52.7,363.4L54.4,364.2L56,365.1L57.8,365.8L59.6,366.6L61.4,367.3L63,367.8L64.7,368.4L66.4,368.9L68,369.5L69.9,369.8L71.7,370.1L73.6,370.4L75.4,370.7L76.9,371.5L78.4,372.2Z"/>
<path fill="#166a7a" stroke="#ffffff" stroke-width="0.9" d="M77.4,331.1L78.4,331.2L79.5,332.3L79.5,333.3L78.5,333.2L77.5,332.1ZM71.4,348.1L72.1,348.1L72.5,348.7L72.1,349.1L71.4,348.7ZM70.9,351.8L71.5,351.8L71.9,352.4L71.5,352.9L70.8,352.5ZM70.3,369.7L68.9,370.6L67,370.3L65.1,370L64.9,368.7L66.7,368.6L68.5,368.5L69.4,369.1ZM71,369.7L71.8,369.7L72.7,370.5L72.8,371.3L72,371.3L71.1,370.4ZM64,367.6L62.7,368.5L60.7,367.9L58.8,367.4L59.1,366.6L60.9,366.5L62.8,366.4ZM55.4,364.5L56.2,364.6L56.8,365.4L56.3,365.8L55.5,365.3ZM51.4,362.9L52,362.8L52.3,363.4L51.9,363.7L51.4,363.4ZM47.1,359.8L47.8,359.9L48.6,360.7L48.6,361.3L48,361.2L47.2,360.5ZM45.4,357.8L46.1,358L46.7,358.8L46.3,359.1L45.5,358.5ZM41,354.7L41.8,354.9L42.9,355.9L43.8,357.1L43.9,357.9L43.2,357.7L42,356.7L41.1,355.5ZM38.4,353.2L39.1,353.3L39.5,354L39.1,354.3L38.5,353.8ZM34.7,350.2L35.7,350.3L36.7,351.4L36.6,352.3L35.6,352.3L34.6,351.2ZM33.6,349.4L34.3,349.4L34.6,350L34.1,350.4L33.5,350ZM31.7,347.3L32.5,347.3L33.2,348.2L33.2,348.9L32.4,348.8L31.7,348ZM29.1,345.9L29.8,346L30.2,346.7L29.8,347L29.1,346.5ZM23.3,339.1L23.9,339.8L24.4,341.6L24.4,342.6L23.8,341.9L23.2,340.1ZM27.6,341.6L28.3,341.8L28.6,342.5L28.2,342.8L27.6,342.3ZM21.9,334.8L22.7,334.7L23.8,335.2L24.1,335.8L23.2,335.9L22.2,335.4ZM21,329.1L21.6,329.2L21.8,329.8L21.4,330L20.9,329.7ZM15.7,321.6L16.5,321.8L16.9,322.7L16.4,323.1L15.6,322.4ZM16.2,318.2L17.1,318.5L17.9,319.6L17.9,320.5L17,320.2L16.2,319.1ZM18.3,322.5L18.8,322.6L19.1,323.1L18.7,323.4L18.2,323ZM89.6,378.4L90.5,378.4L91.2,379.3L90.9,379.8L89.8,379.2ZM90.4,380.7L91,380.6L91.5,381.2L91.2,381.6L90.5,381.3ZM80,375.4L80.9,375.5L81.7,376.4L81.3,376.7L80.3,376.1ZM101.7,381.4L102.4,381.3L103.1,382L102.7,382.5L101.8,382.1ZM104.2,384.4L104.8,384.4L105.3,385L105,385.3L104.3,385ZM109.9,384.4L110.8,384.4L111.6,385.2L111.3,385.7L110.2,385.2ZM86.4,377.2L87.1,377.2L87.8,378L87.4,378.3L86.6,377.9ZM95.4,379.6L96.1,379.6L96.8,380.3L96.4,380.7L95.6,380.2ZM100.8,379.1L101.5,379.2L102.2,379.8L101.9,380.2L101,379.8Z"/>
<path fill="#40afb0" stroke="#ffffff" stroke-width="0.7" d="M254.7,412.4L258.7,414.3L263.2,416.5L264.7,419.8L268.2,422.7L265.7,425.3L262.5,426.4L259.3,428.4L257,431.1L253.9,428.4L254.2,422.9L252.1,419.8L255.1,415.7ZM243.9,403.4L245.1,401.9L246.8,403.7L249.6,403L252.9,405.1L252.9,406.4L250.9,407.5L247.7,408.1L246.7,405.3L244.1,404.8ZM236,400.9L236.8,399.3L240.6,399.8L243.7,400.1L241.7,401.6L238.7,401.1ZM239.5,404.7L240,403.7L241.2,403.5L242.2,404.1L242.2,405.2L241.2,405.9L240,405.6ZM244.1,408.5L244.6,407.9L245.7,407.9L246.2,408.5L245.7,409.1L244.6,409.1ZM223.5,394.5L225.8,394.1L227.4,392.6L229.7,396.1L231.6,398.2L229.7,398.7L225.8,398.2L224.5,396.1ZM204.2,387.9L205,386.5L207.1,385.4L209.7,385.8L210.5,387.9L209.7,389.7L207.8,390.4L205.2,389.5ZM198.1,390.6L198.8,388.8L200.5,388.6L200.1,390.6L198.8,391.6Z"/>
</g>
<g font-family="'Liberation Sans', sans-serif" font-weight="bold" font-size="12px" opacity="0.999" style="will-change:transform">
<rect x="536" y="264.7" width="9" height="8.9" fill="#166a7a"/>
<text x="550.3" y="272.9" fill="#166a7a" textLength="125.9" lengthAdjust="spacingAndGlyphs">Recreational legalization</text>
<text x="550.3" y="285.7" fill="#166a7a" textLength="127.0" lengthAdjust="spacingAndGlyphs">and medical cannabis law</text>
<rect x="536" y="294.7" width="9" height="8.9" fill="#40afb0"/>
<text x="550.3" y="303.7" fill="#40afb0" textLength="106.1" lengthAdjust="spacingAndGlyphs">Medical cannabis law</text>
<text x="550.3" y="316.5" fill="#40afb0" textLength="109.0" lengthAdjust="spacingAndGlyphs">and decriminalization</text>
<rect x="536" y="326.0" width="9" height="8.9" fill="#e29a27"/>
<text x="550.3" y="334.5" fill="#e29a27" textLength="130.0" lengthAdjust="spacingAndGlyphs">Medical cannabis law only</text>
<rect x="536" y="343.1" width="9" height="8.9" fill="#e44f39"/>
<text x="550.3" y="351.6" fill="#e44f39" textLength="112.6" lengthAdjust="spacingAndGlyphs">Decriminalization only</text>
<rect x="536" y="360.2" width="9" height="8.9" fill="#af2723"/>
<text x="550.3" y="368.6" fill="#af2723" textLength="57.6" lengthAdjust="spacingAndGlyphs">Prohibition</text>
</g>

</svg>
</body></html>
